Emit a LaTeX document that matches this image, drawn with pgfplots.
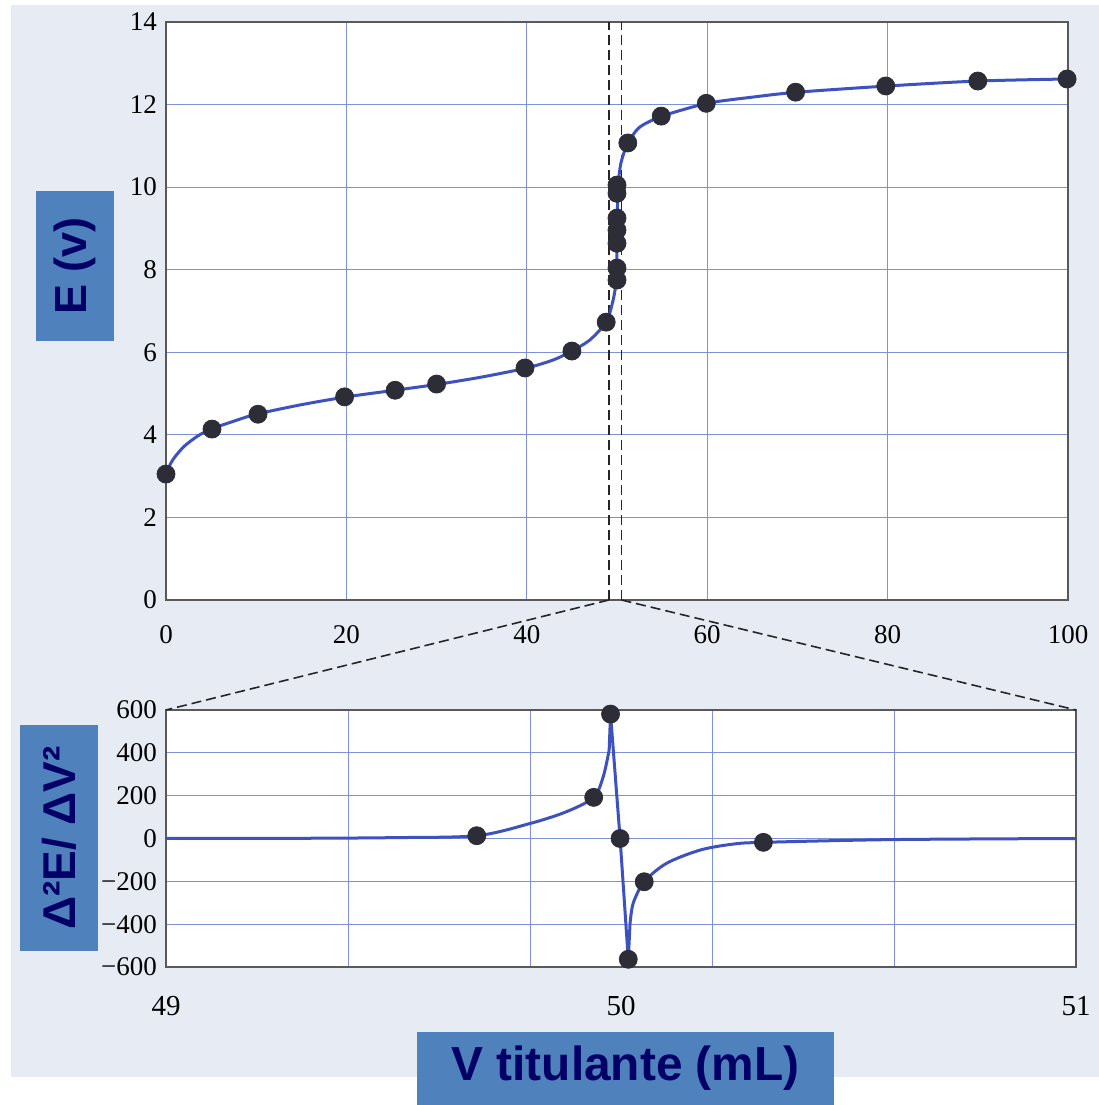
\documentclass[border=0pt]{standalone}
\usepackage{pgfplots}
\pgfplotsset{compat=1.18}
\usepackage{fontspec}
\setmainfont{Liberation Serif}
\newfontfamily\labfont{Liberation Sans}
\definecolor{pagebg}{RGB}{231,235,244}
\definecolor{boxblue}{RGB}{79,129,189}
\definecolor{navy}{RGB}{0,0,102}
\definecolor{curveblue}{RGB}{62,82,190}
\definecolor{gridblue}{RGB}{125,145,215}
\definecolor{markgray}{RGB}{45,45,55}
\begin{document}
\begin{tikzpicture}[x=1pt,y=1pt]
\fill[white] (0,0) rectangle (549.5,552.5);
\fill[pagebg] (5.5,14) rectangle (549.5,550);
\begin{axis}[name=top, at={(83pt,252.5pt)}, anchor=south west, scale only axis,
  width=451pt, height=289pt, xmin=0, xmax=100, ymin=0, ymax=14,
  xtick={0,20,...,100}, ytick={0,2,...,14},
  grid=major, grid style={gridblue, line width=0.45pt},
  major tick length=0pt,
  axis background/.style={fill=white},
  axis line style={black!65, line width=0.9pt},
  tick label style={font=\fontsize{13.5}{13.5}\selectfont},
  /pgf/number format/assume math mode=true,
  xticklabel style={yshift=-9pt}, yticklabel style={xshift=-1pt},
  clip=false]
\draw[dash pattern=on 5pt off 2.5pt, line width=0.9pt, black!85] (axis cs:49.1,0) -- (axis cs:49.1,14);
\draw[dash pattern=on 5pt off 2.5pt, line width=0.9pt, black!85] (axis cs:50.5,0) -- (axis cs:50.5,14);
\coordinate (L) at (axis cs:49.1,0);
\coordinate (R) at (axis cs:50.5,0);
\addplot[curveblue, line width=1.5pt, smooth, tension=0.45] coordinates {
(0,3.05) (0.5,3.3) (1,3.47) (2,3.72) (3.5,3.97) (5,4.14) (7.5,4.33) (10,4.5)
(15,4.73) (20,4.92) (25,5.07) (30,5.22) (35,5.4) (40,5.62) (43,5.82) (45,6.03)
(47,6.3) (48.8,6.73) (49.5,7.2) (49.9,7.7) (50.0,8.5) (50.05,9.5) (50.15,10.1)
(50.4,10.55) (50.8,10.85) (51.2,11.07) (52.5,11.45) (55,11.72) (60,12.03)
(65,12.18) (70,12.3) (80,12.45) (90,12.57) (100,12.62)};
\addplot[only marks, mark=*, mark size=4.5pt, mark options={fill=markgray, draw=markgray}] coordinates {
(0,3.05) (5.1,4.14) (10.2,4.5) (19.8,4.92) (25.4,5.08) (30.0,5.23) (39.8,5.62)
(45.0,6.03) (48.8,6.73) (50.0,7.75) (50.0,8.04) (50.0,8.64) (50.0,8.96) (50.0,9.25)
(50.0,9.85) (50.0,10.05) (51.2,11.07) (54.9,11.72) (59.9,12.03) (69.8,12.3)
(79.8,12.45) (90.0,12.57) (99.9,12.62)};
\end{axis}
\begin{axis}[name=bot, at={(83pt,69pt)}, anchor=south west, scale only axis,
  width=455pt, height=128.5pt, xmin=49, xmax=51, ymin=-600, ymax=600,
  xtick={49,50,51}, minor xtick={49.4,49.8,50.2,50.6},
  ytick={-600,-400,...,600}, yticklabels={−600,−400,−200,0,200,400,600},
  xmajorgrids=false, xminorgrids=true, ymajorgrids=true,
  grid style={gridblue, line width=0.45pt}, minor grid style={gridblue, line width=0.45pt},
  major tick length=0pt, minor tick length=0pt,
  axis background/.style={fill=white},
  axis line style={black!65, line width=0.9pt},
  yticklabel style={font=\fontsize{13.5}{13.5}\selectfont, xshift=-1pt},
  xticklabel style={font=\fontsize{14.5}{14.5}\selectfont, yshift=-11pt},
  /pgf/number format/assume math mode=true,
  clip=false]
\addplot[curveblue, line width=1.5pt, smooth, tension=0.5] coordinates {
(49.0,0) (49.3,1) (49.5,4) (49.683,13) (49.8,70) (49.88,125)
(49.94,192) (49.961,289) (49.974,413)};
\addplot[curveblue, line width=1.5pt] coordinates {
(49.974,413) (49.977,581) (49.998,0) (50.016,-564) (50.02,-394)};
\addplot[curveblue, line width=1.5pt, smooth, tension=0.5] coordinates {
(50.02,-394) (50.027,-301) (50.051,-202) (50.1,-116) (50.174,-54) (50.247,-26)
(50.313,-18) (50.6,-5) (51.0,0)};
\addplot[only marks, mark=*, mark size=4.5pt, mark options={fill=markgray, draw=markgray}] coordinates {
(49.683,13) (49.94,192) (49.977,581) (49.998,0) (50.016,-564) (50.051,-202) (50.313,-18)};
\end{axis}
\draw[dash pattern=on 5pt off 2.5pt, line width=0.8pt, black!85] (L) -- (bot.north west);
\draw[dash pattern=on 5pt off 2.5pt, line width=0.8pt, black!85] (R) -- (bot.north east);
\node[fill=boxblue, text=navy, rotate=90, inner sep=0pt, minimum width=75pt, minimum height=39pt,
  font=\labfont\bfseries\fontsize{22.5}{22.5}\selectfont] at (37.5,419.5) {E (v)};
\node[fill=boxblue, text=navy, rotate=90, inner sep=0pt, minimum width=113pt, minimum height=39pt,
  font=\labfont\bfseries\fontsize{23}{23}\selectfont] at (29.5,133.5) {Δ²E/ ΔV²};
\node[fill=boxblue, text=navy, inner sep=0pt, minimum width=208.5pt, minimum height=36.5pt,
  font=\labfont\bfseries\fontsize{23.9}{23.9}\selectfont] at (312.75,18.25) {V titulante (mL)};
\end{tikzpicture}
\end{document}
